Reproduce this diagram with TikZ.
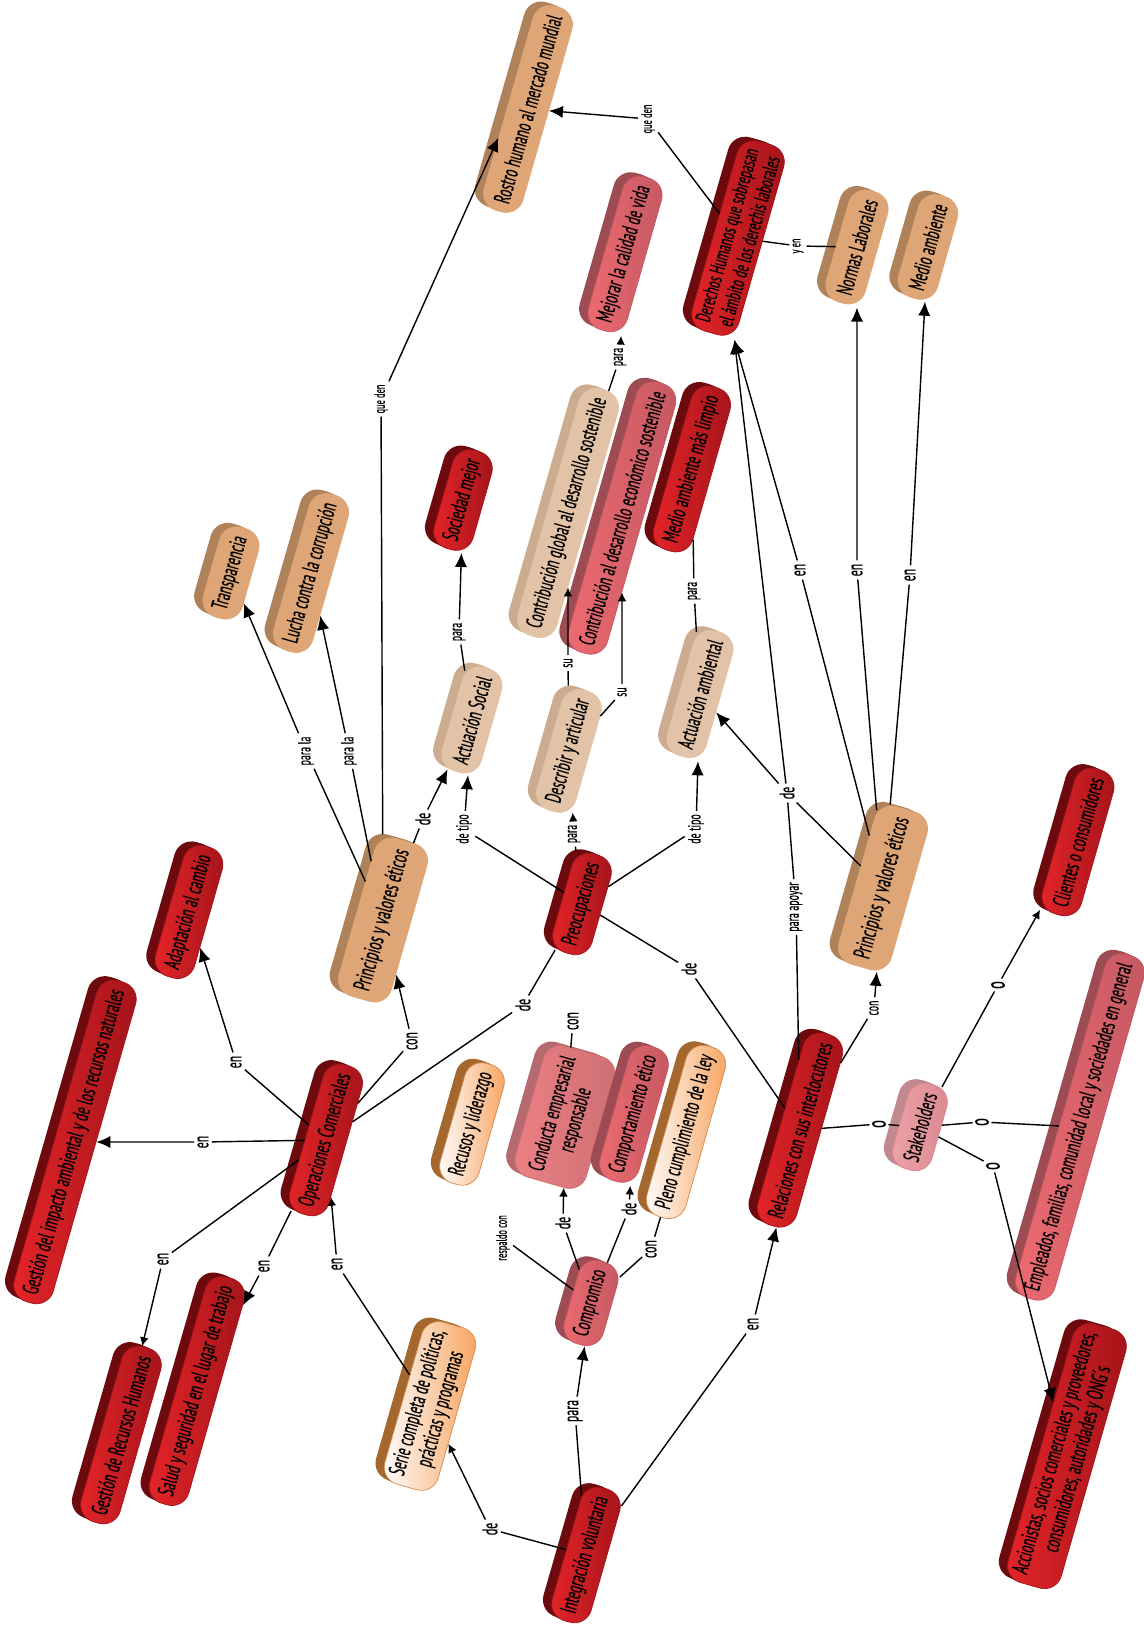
\documentclass[tikz,border=0pt]{standalone}
\usepackage{fontspec}
\setmainfont{PT Sans}[FakeStretch=0.56, FakeBold=0.4]
\usetikzlibrary{arrows.meta}
\definecolor{rojoA}{HTML}{E52529}
\definecolor{rojoB}{HTML}{A3141A}
\definecolor{rojoC}{HTML}{6D0A0E}
\definecolor{tostadoA}{HTML}{DEA676}
\definecolor{tostadoC}{HTML}{B08259}
\definecolor{cremaA}{HTML}{E3C3A7}
\definecolor{cremaC}{HTML}{CDAB8F}
\definecolor{rosaA}{HTML}{EE6B71}
\definecolor{rosaB}{HTML}{C45862}
\definecolor{rosaC}{HTML}{9D4C54}
\definecolor{paloA}{HTML}{ED8084}
\definecolor{paloB}{HTML}{CD6F74}
\definecolor{paloC}{HTML}{B56A6F}
\definecolor{claroA}{HTML}{EEA3A8}
\definecolor{claroB}{HTML}{D88990}
\definecolor{claroC}{HTML}{C28A8F}
\definecolor{naranjaA}{HTML}{F6A25E}
\definecolor{naranjaB}{HTML}{D9894A}
\definecolor{naranjaC}{HTML}{A4682F}
\tikzset{>={Latex[length=8pt,width=7pt]}}
\tikzset{
  canto/.style={preaction={fill=#1,transform canvas={shift={(-1.7pt,.8pt)}}},
    preaction={fill=#1,transform canvas={shift={(-3.4pt,1.6pt)}}},
    preaction={fill=#1,transform canvas={shift={(-5pt,2.3pt)}}}},
  concepto/.style={rectangle, rounded corners=10pt, rotate=74, align=center,
    minimum height=23pt, inner xsep=5pt, inner ysep=3pt, line width=.4pt,
    font=\fontsize{13}{13.5}\selectfont, text=black},
  rojo/.style={concepto, canto=rojoC, left color=rojoA, right color=rojoB, draw=rojoB},
  tostado/.style={concepto, canto=tostadoC, fill=tostadoA, draw=tostadoA},
  crema/.style={concepto, canto=cremaC, fill=cremaA, draw=cremaA},
  rosa/.style={concepto, canto=rosaC, left color=rosaA, right color=rosaB, draw=rosaB},
  palo/.style={concepto, canto=paloC, left color=paloA, right color=paloB, draw=paloB},
  claro/.style={concepto, canto=claroC, left color=claroA, right color=claroB, draw=claroB},
  naranja/.style={concepto, canto=naranjaC, left color=white, right color=naranjaA, draw=naranjaB},
  enlace/.style={rotate=90, inner sep=1.5pt, font=\fontsize{12}{12}\selectfont},
  enlacem/.style={enlace, font=\fontsize{10}{10}\selectfont},
  enlacep/.style={enlace, font=\fontsize{8.5}{9}\selectfont},
  enlaceo/.style={enlace, font=\fontsize{15}{15}\selectfont, inner sep=1pt},
  chica/.style={-{Latex[length=5pt,width=5pt]}}
}
\begin{document}
\begin{tikzpicture}[x=0.02cm, y=-0.02cm, line width=.8pt]
\useasboundingbox (0,0) rectangle (1143,1625);
% conceptos
\node[tostado] (rostro) at (528,109) {Rostro humano al mercado mundial};
\node[rojo, font=\fontsize{12}{13}\selectfont] (derechos) at (738,238) {Derechos Humanos que sobrepasan\\el ámbito de los derechis laborales};
\node[tostado] (normas) at (857,247) {Normas Laborales};
\node[tostado] (medioamb) at (928,247) {Medio ambiente};
\node[rosa] (mejorar) at (625,254) {Mejorar la calidad de vida};
\node[tostado] (transp) at (231,573) {Transparencia};
\node[tostado] (lucha) at (311,573) {Lucha contra la corrupción};
\node[rojo] (sociedad) at (463,500) {Sociedad mejor};
\node[crema] (contglobal) at (568,513) {Contribución global al desarrollo sostenible};
\node[rosa] (contecon) at (622,518) {Contribución al desarrollo económico sostenible};
\node[rojo] (limpio) at (692,469) {Medio ambiente más limpio};
\node[crema] (actsocial) at (472,720) {Actuación Social};
\node[crema] (describir) at (569,751) {Describir y articular};
\node[crema] (actamb) at (700,694) {Actuación ambiental};
\node[tostado, minimum height=31pt, font=\fontsize{13.5}{14}\selectfont] (princA) at (383,920) {Principios y valores éticos};
\node[rojo] (preocup) at (582,904) {Preocupaciones};
\node[tostado, minimum height=31pt, font=\fontsize{13.5}{14}\selectfont] (princB) at (883,888) {Principios y valores éticos};
\node[rojo] (clientes) at (1078,842) {Clientes o consumidores};
\node[rojo] (adapt) at (189,912) {Adaptación al cambio};
\node[rojo] (gestimp) at (75,1142) {Gestión del impacto ambiental y de los recursos naturales};
\node[rojo] (operac) at (326,1140) {Operaciones Comerciales};
\node[rojo] (gestrh) at (121,1435) {Gestión de Recursos Humanos};
\node[rojo] (salud) at (197,1391) {Salud y seguridad en el lugar de trabajo};
\node[naranja] (serie) at (430,1406) {Serie completa de políticas,\\prácticas y programas};
\node[naranja] (recursos) at (472,1124) {Recusos y liderazgo};
\node[palo, minimum height=42pt] (conducta) at (565,1117) {Conducta empresarial\\responsable};
\node[rosa] (comport) at (634,1114) {Comportamiento ético};
\node[naranja] (pleno) at (686,1132) {Pleno cumplimiento de la ley};
\node[rosa] (compromiso) at (591,1303) {Compromiso};
\node[rojo] (integ) at (586,1555) {Integración voluntaria};
\node[rojo] (relac) at (800,1130) {Relaciones con sus interlocutores};
\node[claro] (stake) at (920,1127) {Stakeholders};
\node[rosa] (empleados) at (1080,1127) {Empleados, familias, comunidad local y sociedades en general};
\node[rojo] (accionistas) at (1067,1456) {Accionistas, socios comerciales y proveedores,\\consumidores, autoridades y ONG´s};
% palabras de enlace
\node[enlacep] (lqd1) at (381,399) {que den};
\node[enlacep] (lqd2) at (648,119) {que den};
\node[enlacep] (lyen) at (798,246) {y en};
\node[enlace] (len1) at (800,570) {en};
\node[enlace] (len2) at (857,570) {en};
\node[enlace] (len3) at (910,575) {en};
\node[enlacem] (lapoyar) at (796,907) {para apoyar};
\node[enlace] (lde5) at (787,793) {de};
\node[enlacem] (lpla1) at (306,751) {para la};
\node[enlacem] (lpla2) at (349,751) {para la};
\node[enlace] (lde1) at (423,819) {de};
\node[enlacem] (ltipo1) at (464,829) {de tipo};
\node[enlacem] (lpara1) at (574,834) {para};
\node[enlacem] (ltipo2) at (696,829) {de tipo};
\node[enlacem] (lsu1) at (568,663) {su};
\node[enlacem] (lsu2) at (622,692) {su};
\node[enlacem] (lpara2) at (459,632) {para};
\node[enlacem] (lpara3) at (694,591) {para};
\node[enlacem] (lpara4) at (620,357) {para};
\node[enlace] (lcon1) at (412,1041) {con};
\node[enlace] (lde2) at (523,1005) {de};
\node[enlace] (len4) at (236,1062) {en};
\node[enlace] (len5) at (203,1142) {en};
\node[enlace] (len6) at (163,1259) {en};
\node[enlace] (len7) at (264,1266) {en};
\node[enlace] (len8) at (337,1264) {en};
\node[enlace] (lde3) at (490,1529) {de};
\node[enlace] (lpara5) at (575,1411) {para};
\node[enlace] (len9) at (753,1324) {en};
\node[enlace] (lde6) at (563,1223) {de};
\node[enlace] (lde7) at (629,1209) {de};
\node[enlace] (lcon2) at (651,1249) {con};
\node[enlacep] (lresp) at (503,1238) {respaldo con};
\node[enlace] (lcon3) at (573,1021) {con};
\node[enlace] (lde4) at (689,969) {de};
\node[enlacem] (lcon4) at (874,1008) {con};
\node[enlaceo] (lo1) at (879,1124) {o};
\node[enlaceo] (lo2) at (998,985) {o};
\node[enlaceo] (lo3) at (982,1122) {o};
\node[enlaceo] (lo4) at (993,1166) {o};
% enlaces
\draw (princA) -- (lqd1) edge[->] (rostro.150);
\draw (derechos) -- (lqd2) edge[->] (rostro);
\draw (derechos) -- (lyen) -- (normas);
\draw (princB) -- (len1) edge[->] (derechos.south west);
\draw (princB) -- (len2) edge[->] (normas);
\draw (princB) -- (len3) edge[->] (medioamb);
\draw (relac) -- (lapoyar) -- (lde5) edge[->] (derechos.south west);
\draw (princB) -- (lde5) edge[->] (actamb);
\draw (princA) -- (lpla1) edge[->] (transp);
\draw (princA) -- (lpla2) edge[->] (lucha);
\draw (princA) -- (lde1) edge[->] (actsocial);
\draw (preocup) -- (ltipo1) edge[->] (actsocial);
\draw (preocup) -- (lpara1) edge[chica] (describir);
\draw (preocup) -- (ltipo2) edge[->] (actamb);
\draw (describir) -- (lsu1) edge[chica] (contglobal);
\draw (describir) -- (lsu2) edge[chica] (contecon);
\draw (actsocial) -- (lpara2) edge[->] (sociedad);
\draw (actamb) -- (lpara3) -- (limpio);
\draw (contglobal) -- (lpara4) edge[chica] (mejorar);
\draw (operac) -- (lcon1) edge[->] (princA);
\draw (operac) -- (lde2) -- (preocup);
\draw (operac) -- (len4) edge[->] (adapt);
\draw (operac) -- (len5) edge[->] (gestimp);
\draw (operac) -- (len6) edge[chica] (gestrh);
\draw (operac) -- (len7) edge[->] (salud);
\draw (serie) -- (len8) edge[chica] (operac);
\draw (integ) -- (lde3) edge[chica] (serie);
\draw (integ) -- (lpara5) edge[->] (compromiso);
\draw (integ) -- (len9) edge[->] (relac);
\draw (compromiso) -- (lde6) edge[chica] (conducta);
\draw (compromiso) -- (lde7) edge[chica] (comport);
\draw (compromiso) -- (lcon2) -- (pleno);
\draw (compromiso) -- (lresp);
\draw (conducta) -- (lcon3);
\draw (preocup) -- (lde4) -- (relac);
\draw (relac) -- (lcon4) edge[->] (princB);
\draw (relac) -- (lo1) -- (stake);
\draw (stake) -- (lo2) edge[chica] (clientes);
\draw (stake) -- (lo3) -- (empleados);
\draw (stake) -- (lo4) edge[->] (accionistas);
\end{tikzpicture}
\end{document}
